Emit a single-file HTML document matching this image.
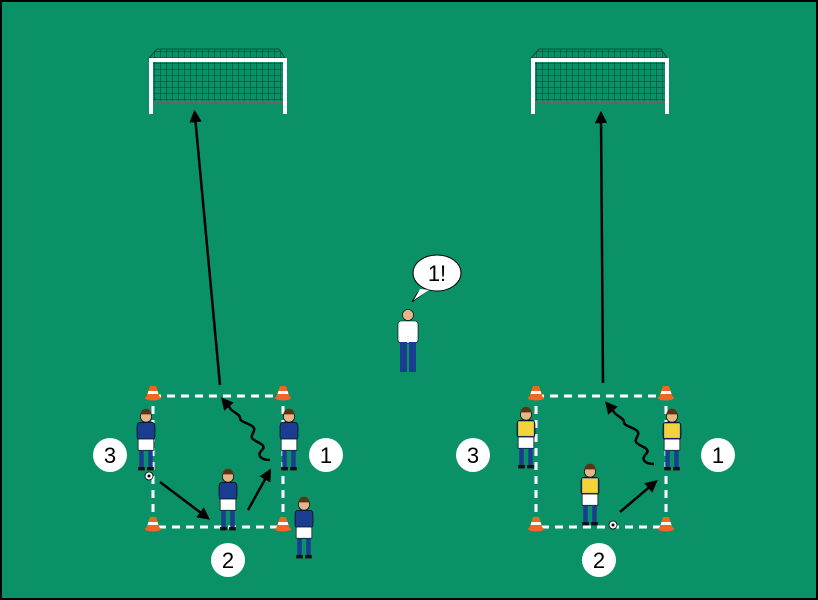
<!DOCTYPE html>
<html><head><style>html,body{margin:0;padding:0;background:#000}svg{display:block}</style></head><body>
<svg width="818" height="600" viewBox="0 0 818 600" xmlns="http://www.w3.org/2000/svg">
<defs>
<pattern id="net" width="6" height="6" patternUnits="userSpaceOnUse"><path d="M6 0V6M0 6H6" stroke="#08402b" stroke-width="1.1" fill="none"/></pattern>
<marker id="ah" viewBox="0 0 10 10" refX="5" refY="5" markerWidth="5" markerHeight="5" orient="auto"><path d="M0 0L10 5L0 10z" fill="#000"/></marker>
<g id="pb"><circle cx="0" cy="-28" r="5" fill="#e8b58a" stroke="#000" stroke-width="0.6"/><path d="M-5 -30a5 5 0 0 1 10 0z" fill="#5a3515"/><rect x="-8" y="-23" width="16" height="16" rx="3" fill="#1a3d8f" stroke="#000" stroke-width="0.6"/><rect x="-7" y="-8" width="14" height="10" fill="#fff" stroke="#000" stroke-width="0.6"/><rect x="-6" y="2" width="4" height="16" fill="#1a3d8f"/><rect x="2" y="2" width="4" height="16" fill="#1a3d8f"/><rect x="-7" y="17" width="6" height="3" fill="#111"/><rect x="1" y="17" width="6" height="3" fill="#111"/></g>
<g id="py"><circle cx="0" cy="-28" r="5" fill="#e8b58a" stroke="#000" stroke-width="0.6"/><path d="M-5 -30a5 5 0 0 1 10 0z" fill="#5a3515"/><rect x="-8" y="-23" width="16" height="16" rx="3" fill="#1a3d8f" stroke="#000" stroke-width="0.6"/><rect x="-7" y="-22" width="14" height="13" fill="#f2d43a"/><rect x="-7" y="-8" width="14" height="10" fill="#fff" stroke="#000" stroke-width="0.6"/><rect x="-6" y="2" width="4" height="16" fill="#1a3d8f"/><rect x="2" y="2" width="4" height="16" fill="#1a3d8f"/><rect x="-7" y="17" width="6" height="3" fill="#111"/><rect x="1" y="17" width="6" height="3" fill="#111"/></g>
<g id="cone"><path d="M-3 -9L3 -9L7 3L-7 3z" fill="#f26522"/><path d="M-4.5 -4L4.5 -4L5.5 -1L-5.5 -1z" fill="#fff"/><ellipse cx="0" cy="3" rx="8" ry="2.5" fill="#f26522"/></g>
<g id="goal"><path d="M8 -9H130L136 0H0z" fill="url(#net)" stroke="#08402b" stroke-width="0.8"/><rect x="2" y="0" width="134" height="44" fill="url(#net)"/><line x1="2" y1="44" x2="136" y2="44" stroke="#666" stroke-width="2"/><path d="M2 56V2H136V56" fill="none" stroke="#fff" stroke-width="4"/></g>
<g id="ball"><circle r="4" fill="#fff" stroke="#000" stroke-width="0.8"/><circle r="1.5" fill="#000"/></g>
</defs>
<rect x="0" y="0" width="818" height="600" fill="#000"/>
<rect x="2" y="2" width="814" height="596" fill="#0b9168"/>
<use href="#goal" x="149" y="58"/>
<use href="#goal" x="531" y="58"/>
<g stroke="#fff" stroke-width="3" stroke-dasharray="8 6" fill="none">
<rect x="153" y="396" width="130" height="131"/>
<rect x="536" y="396" width="130" height="131"/>
</g>
<use href="#cone" x="153" y="395"/><use href="#cone" x="283" y="395"/><use href="#cone" x="153" y="526"/><use href="#cone" x="283" y="526"/>
<use href="#cone" x="536" y="395"/><use href="#cone" x="666" y="395"/><use href="#cone" x="536" y="526"/><use href="#cone" x="666" y="526"/>
<g stroke="#000" stroke-width="2.5" fill="none" marker-end="url(#ah)">
<line x1="220" y1="385" x2="195" y2="116"/>
<line x1="603" y1="383" x2="601" y2="117"/>
<line x1="160" y1="482" x2="205" y2="516"/>
<line x1="248" y1="510" x2="268" y2="474"/>
<line x1="620" y1="512" x2="653" y2="484"/>
<path d="M270 460c-8 0-14-4-8-10s-8-8-10-12 6-8 0-12-12-4-12-8 -8-6-10-10l-5-6"/>
<path d="M654 464c-8 0-14-4-8-10s-8-8-10-12 6-8 0-12-12-4-12-8 -8-6-10-10l-5-6"/>
</g>
<use href="#pb" transform="translate(146,448) scale(1.12)"/><use href="#ball" x="149" y="476"/>
<use href="#pb" transform="translate(228,508) scale(1.12)"/>
<use href="#pb" transform="translate(289,448) scale(1.12)"/>
<use href="#pb" transform="translate(304,536) scale(1.12)"/>
<use href="#py" transform="translate(526,446) scale(1.12)"/>
<use href="#py" transform="translate(590,503) scale(1.12)"/><use href="#ball" x="613" y="525"/>
<use href="#py" transform="translate(672,448) scale(1.12)"/>
<g>
<circle cx="408" cy="315" r="5.5" fill="#e8b58a" stroke="#000" stroke-width="0.6"/>
<rect x="398" y="321" width="20" height="22" rx="3" fill="#fff" stroke="#000" stroke-width="0.6"/>
<rect x="400" y="342" width="7" height="30" fill="#1a3d8f"/><rect x="409" y="342" width="7" height="30" fill="#1a3d8f"/>
</g>
<path d="M418 292L412 302L428 290z" fill="#fff" stroke="#000" stroke-width="1"/>
<ellipse cx="437" cy="273" rx="24" ry="18" fill="#fff" stroke="#000" stroke-width="1"/>
<path d="M420 289L414 300L429 290" fill="#fff"/>
<g font-family="Liberation Sans, sans-serif" font-size="22" text-anchor="middle" fill="#000">
<text x="437" y="281">1!</text>
<circle cx="110" cy="455" r="17" fill="#fff"/><text x="110" y="463">3</text>
<circle cx="326" cy="455" r="17" fill="#fff"/><text x="326" y="463">1</text>
<circle cx="228" cy="560" r="17" fill="#fff"/><text x="228" y="568">2</text>
<circle cx="473" cy="455" r="17" fill="#fff"/><text x="473" y="463">3</text>
<circle cx="718" cy="455" r="17" fill="#fff"/><text x="718" y="463">1</text>
<circle cx="599" cy="560" r="17" fill="#fff"/><text x="599" y="568">2</text>
</g>
</svg>
</body></html>
